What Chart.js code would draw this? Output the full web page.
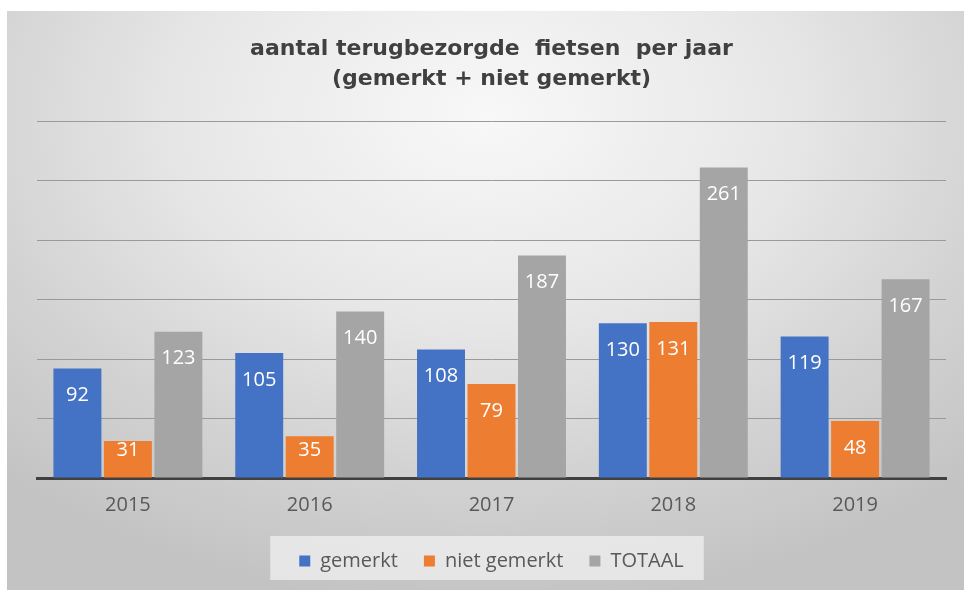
<!DOCTYPE html>
<html>
<head>
<meta charset="utf-8">
<script src="https://cdn.jsdelivr.net/npm/chart.js@4/dist/chart.umd.min.js"></script>
<style>
  html, body { margin: 0; padding: 0; background: #fff; }
  #wrap {
    position: absolute; left: 7px; top: 11px; width: 957px; height: 579px;
    background: radial-gradient(ellipse 75% 85% at 50% 18%, #f8f8f8 0%, #e7e7e7 42%, #d3d3d3 72%, #c3c3c3 100%);
  }
  canvas { display: block; }
</style>
</head>
<body>
<div id="wrap"><canvas id="grafiek" width="957" height="579"></canvas></div>
<script>
const jaren = ['2015', '2016', '2017', '2018', '2019'];
const gemerkt = [92, 105, 108, 130, 119];
const nietGemerkt = [31, 35, 79, 131, 48];
const totaal = [123, 140, 187, 261, 167];
const titel = ['aantal terugbezorgde  fietsen  per jaar', '(gemerkt + niet gemerkt)'];

// witte labels net binnen de bovenkant van elke staaf
const waardeLabels = {
    id: 'waardeLabels',
    afterDatasetsDraw(chart) {
        const ctx = chart.ctx;
        const basis = chart.scales.y.getPixelForValue(0);
        ctx.save();
        ctx.fillStyle = '#ffffff';
        ctx.font = '20px "Open Sans"';
        ctx.textAlign = 'center';
        ctx.textBaseline = 'middle';
        chart.data.datasets.forEach((ds, i) => {
            chart.getDatasetMeta(i).data.forEach((bar, j) => {
                const y = Math.min(bar.y + 27, basis - 28);
                ctx.fillText(String(ds.data[j]), bar.x, y);
            });
        });
        ctx.restore();
    }
};

// lichte achtergrond achter de legenda
const legendaVak = {
    id: 'legendaVak',
    beforeDraw(chart) {
        const lg = chart.legend;
        if (!lg || !lg.legendHitBoxes.length) return;
        const boxes = lg.legendHitBoxes;
        const links = boxes[0].left - 29;
        const rechts = boxes[boxes.length - 1].left + boxes[boxes.length - 1].width + 20;
        const ctx = chart.ctx;
        ctx.save();
        ctx.fillStyle = 'rgba(240,240,240,0.75)';
        ctx.fillRect(links, boxes[0].top - 15, rechts - links, 44);
        ctx.restore();
    }
};

const ctx = document.getElementById('grafiek').getContext('2d');
new Chart(ctx, {
    type: 'bar',
    data: {
        labels: jaren,
        datasets: [
            { label: 'gemerkt', data: gemerkt, backgroundColor: '#4472c4' },
            { label: 'niet gemerkt', data: nietGemerkt, backgroundColor: '#ed7d31' },
            { label: 'TOTAAL', data: totaal, backgroundColor: '#a5a5a5' }
        ]
    },
    options: {
        responsive: false,
        animation: false,
        devicePixelRatio: 1,
        categoryPercentage: 0.833,
        barPercentage: 0.95,
        layout: { padding: { left: 30, right: 18, top: 0, bottom: 9 } },
        scales: {
            x: {
                afterFit(scale) { scale.height = 47; },
                grid: { display: false, drawTicks: false },
                border: { display: true, color: '#404040', width: 3 },
                ticks: {
                    color: '#595959',
                    padding: 19,
                    font: { family: '"Open Sans"', size: 20, lineHeight: 0.8 }
                }
            },
            y: {
                min: 0,
                max: 300,
                ticks: { display: false, stepSize: 50 },
                grid: { color: '#9a9a9a', lineWidth: 1, drawTicks: false },
                border: { display: false }
            }
        },
        plugins: {
            title: {
                display: true,
                text: titel,
                color: '#404040',
                font: { family: '"DejaVu Sans"', size: 22, weight: 'bold', lineHeight: 1.364 },
                padding: { top: 23, bottom: 27 }
            },
            legend: {
                display: true,
                position: 'bottom',
                labels: {
                    color: '#595959',
                    boxWidth: 11,
                    boxHeight: 11,
                    padding: 26,
                    font: { family: '"Open Sans"', size: 20 }
                }
            },
            tooltip: { enabled: false }
        }
    },
    plugins: [legendaVak, waardeLabels]
});
</script>
</body>
</html>
